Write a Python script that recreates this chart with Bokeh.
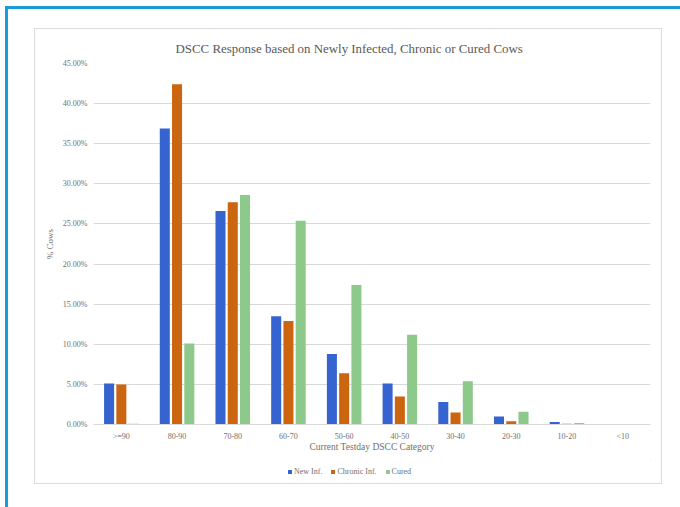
from bokeh.plotting import figure
from bokeh.models import (ColumnDataSource, FactorRange, Range1d, Legend, LegendItem,
                          PrintfTickFormatter, FixedTicker, Title)
from bokeh.transform import dodge
from bokeh.layouts import column
from bokeh.embed import file_html
from bokeh.resources import INLINE

categories = [">=90", "80-90", "70-80", "60-70", "50-60", "40-50", "30-40", "20-30", "10-20", "<10"]
new_inf = [5.1, 36.9, 26.6, 13.5, 8.8, 5.1, 2.8, 1.0, 0.3, 0.0]
chronic_inf = [5.0, 42.4, 27.7, 12.9, 6.4, 3.5, 1.5, 0.4, 0.1, 0.0]
cured = [0.1, 10.1, 28.6, 25.4, 17.4, 11.2, 5.4, 1.6, 0.2, 0.0]
y_ticks = [0, 5, 10, 15, 20, 25, 30, 35, 40, 45]

title_text = "DSCC Response based on Newly Infected, Chronic or Cured Cows"
series_names = ["New Inf.", "Chronic Inf.", "Cured"]
colors = ["#3563CF", "#CC650F", "#8DC98B"]

FONT = "Liberation Serif"
TXT = "#6f6f6f"

src = ColumnDataSource(dict(cat=categories, new=new_inf, chronic=chronic_inf, cured=cured))

p = figure(width=626, height=431, x_range=FactorRange(*categories), y_range=Range1d(0, 45),
           output_backend="svg", toolbar_location=None,
           min_border_left=58, min_border_right=11, min_border_top=34, min_border_bottom=36)
p.title = None
t = Title(text=title_text, align="left", offset=82, text_font=FONT, text_font_size="12.9px",
          text_color="#595959", text_font_style="normal", standoff=12, vertical_align="top")
p.add_layout(t, "above")

p.background_fill_color = "white"
p.border_fill_color = "white"
p.outline_line_color = None

fields = ["new", "chronic", "cured"]
offsets = [-0.22, 0.0, 0.22]
for f, off, c in zip(fields, offsets, colors):
    p.vbar(x=dodge("cat", off, range=p.x_range), top=f, width=0.18, bottom=0,
           source=src, fill_color=c, line_color=None)

p.xgrid.grid_line_color = None
p.ygrid.grid_line_color = "#d9d9d9"
p.ygrid.grid_line_width = 1

p.yaxis.ticker = FixedTicker(ticks=y_ticks)
p.yaxis.formatter = PrintfTickFormatter(format="%.2f%%")
p.yaxis.axis_line_color = None
p.yaxis.major_tick_line_color = None
p.yaxis.minor_tick_line_color = None
p.yaxis.major_tick_out = 0
p.yaxis.major_label_standoff = 6
p.yaxis.major_label_text_font = FONT
p.yaxis.major_label_text_font_size = "8px"
p.yaxis.major_label_text_color = TXT
p.yaxis.axis_label = "% Cows"
p.yaxis.axis_label_text_font = FONT
p.yaxis.axis_label_text_font_size = "9px"
p.yaxis.axis_label_text_font_style = "normal"
p.yaxis.axis_label_text_color = TXT
p.yaxis.axis_label_standoff = 5

p.xaxis.axis_line_color = "#d9d9d9"
p.xaxis.major_tick_line_color = None
p.xaxis.minor_tick_line_color = None
p.xaxis.major_tick_out = 0
p.xaxis.major_label_standoff = 7
p.xaxis.major_label_text_font = FONT
p.xaxis.major_label_text_font_size = "8px"
p.xaxis.major_label_text_color = TXT
p.xaxis.axis_label = "Current Testday DSCC Category"
p.xaxis.axis_label_text_font = FONT
p.xaxis.axis_label_text_font_size = "9.5px"
p.xaxis.axis_label_text_font_style = "normal"
p.xaxis.axis_label_text_color = TXT
p.xaxis.axis_label_standoff = -2

# legend strip (separate small figure under the chart)
lg = figure(width=626, height=23, x_range=Range1d(0, 1), y_range=Range1d(0, 1),
            output_backend="svg", toolbar_location=None,
            min_border_left=0, min_border_right=0, min_border_top=0, min_border_bottom=0)
lg.axis.visible = False
lg.grid.visible = False
lg.outline_line_color = None
lg.background_fill_color = "white"
lg.border_fill_color = "white"
rs = []
for c in colors:
    rs.append(lg.vbar(x=[5], top=[5], bottom=[4], width=0.1, fill_color=c, line_color=None))
legend = Legend(items=[LegendItem(label=n, renderers=[r]) for n, r in zip(series_names, rs)],
                orientation="horizontal", location=(194, 7), margin=0, padding=0,
                spacing=8, glyph_width=5, glyph_height=5, label_standoff=2,
                label_text_font=FONT, label_text_font_size="8px", label_text_color=TXT,
                border_line_color=None, background_fill_alpha=0, label_height=9)
lg.add_layout(legend, "center")

panel = column(p, lg, spacing=0)
panel.margin = (23, 0, 0, 30)
panel.styles = {"outline": "1px solid #dcdcdc"}

outer = column(panel, width=675, height=501)
outer.margin = (6, 0, 0, 5)
outer.styles = {"box-shadow": "inset 3px 3px 0 #1b9bd8"}

open("out.html", "w").write(file_html(outer, INLINE))
